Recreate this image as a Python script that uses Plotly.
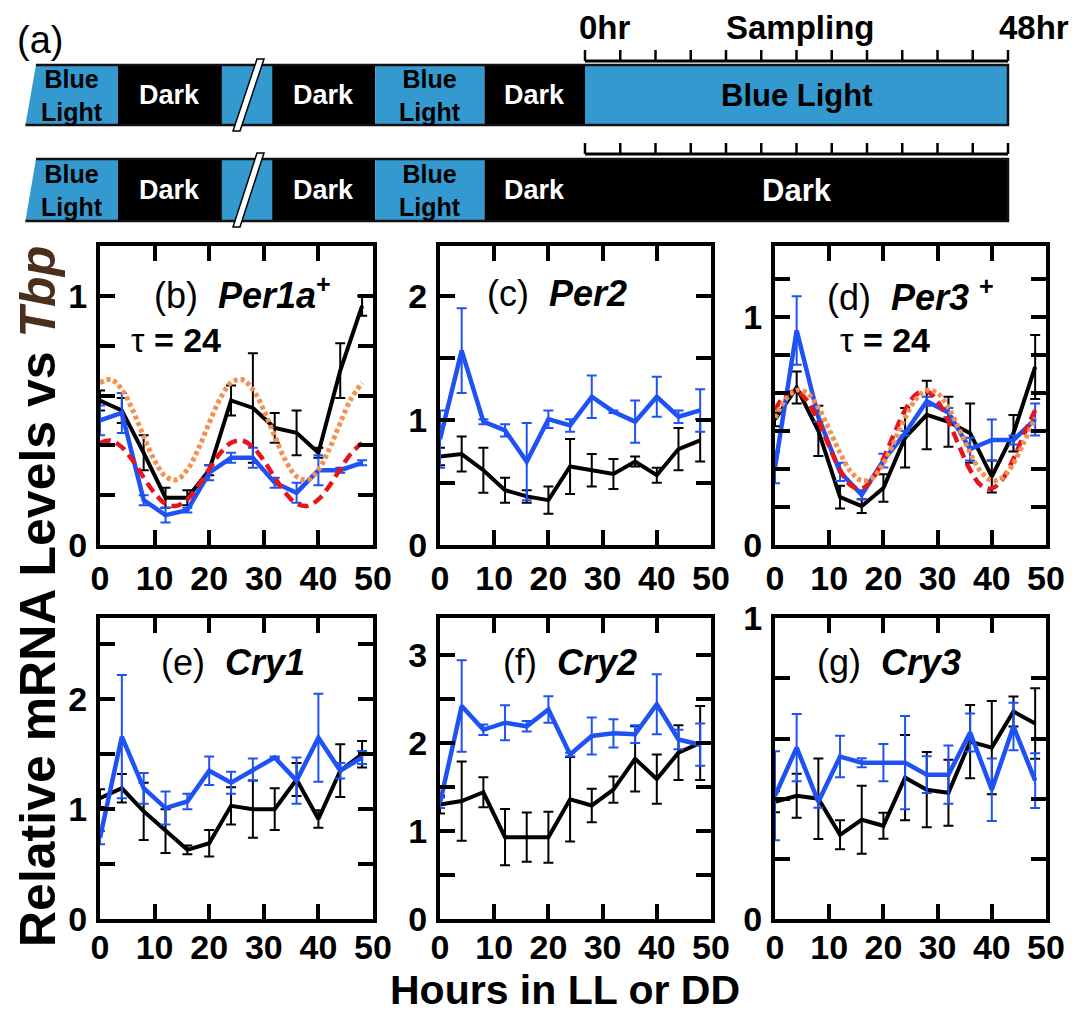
import plotly.graph_objects as go

W, H = 1083, 1015
OFF = 8  # page body margin of the browser
FONT = "Liberation Sans, Arial, sans-serif"
BLACK = "#000000"
BLUE = "#1f52f5"
RED = "#e8141c"
ORANGE = "#f7904f"
DIAG_BLUE = "#3399cf"

# ---------------- data ----------------
hours = [0, 4, 8, 12, 16, 20, 24, 28, 32, 36, 40, 44, 48]
fit_hours = [0, 2, 4, 6, 8, 10, 12, 14, 16, 18, 20, 22, 24,
             26, 28, 30, 32, 34, 36, 38, 40, 42, 44, 46, 48]

# (b) Per1a
per1a_dd = [0.58, 0.54, 0.37, 0.19, 0.19, 0.30, 0.58, 0.55, 0.47, 0.45, 0.37, 0.70, 0.96]
per1a_dd_err = [0.04, 0.05, 0.07, 0.04, 0.03, 0.02, 0.06, 0.22, 0.06, 0.09, 0.02, 0.11, 0.04]
per1a_ll = [0.50, 0.53, 0.18, 0.12, 0.14, 0.29, 0.35, 0.35, 0.25, 0.21, 0.30, 0.30, 0.33]
per1a_ll_err = [0.06, 0.08, 0.02, 0.03, 0.01, 0.03, 0.02, 0.04, 0.02, 0.04, 0.06, 0.01, 0.01]
per1a_fit_dd = [0.651, 0.664, 0.624, 0.541, 0.436, 0.339, 0.275, 0.262, 0.302, 0.385, 0.490, 0.587,
                0.651, 0.664, 0.624, 0.541, 0.436, 0.339, 0.275, 0.262, 0.302, 0.385, 0.490, 0.587, 0.651]
per1a_fit_ll = [0.410, 0.419, 0.393, 0.339, 0.271, 0.208, 0.166, 0.157, 0.183, 0.237, 0.305, 0.368,
                0.410, 0.419, 0.393, 0.339, 0.271, 0.208, 0.166, 0.157, 0.183, 0.237, 0.305, 0.368, 0.410]

# (c) Per2
per2_dd = [0.71, 0.73, 0.60, 0.44, 0.39, 0.36, 0.63, 0.60, 0.57, 0.67, 0.56, 0.77, 0.84]
per2_dd_err = [0.07, 0.14, 0.18, 0.10, 0.05, 0.11, 0.22, 0.13, 0.12, 0.04, 0.06, 0.17, 0.17]
per2_ll = [0.85, 1.56, 0.99, 0.92, 0.67, 1.01, 0.96, 1.19, 1.07, 0.99, 1.19, 1.03, 1.08]
per2_ll_err = [0.23, 0.34, 0.02, 0.05, 0.31, 0.07, 0.05, 0.17, 0.01, 0.17, 0.16, 0.05, 0.17]

# (d) Per3
per3_dd = [0.55, 0.69, 0.50, 0.21, 0.17, 0.25, 0.47, 0.57, 0.54, 0.49, 0.30, 0.49, 0.78]
per3_dd_err = [0.03, 0.07, 0.11, 0.05, 0.03, 0.06, 0.13, 0.15, 0.11, 0.13, 0.07, 0.08, 0.14]
per3_ll = [0.34, 0.94, 0.56, 0.32, 0.22, 0.37, 0.49, 0.63, 0.58, 0.42, 0.46, 0.46, 0.55]
per3_ll_err = [0.07, 0.15, 0.02, 0.04, 0.02, 0.03, 0.01, 0.02, 0.02, 0.05, 0.09, 0.02, 0.07]
per3_fit_dd = [0.557, 0.639, 0.678, 0.665, 0.602, 0.506, 0.403, 0.321, 0.282, 0.295, 0.358, 0.454,
               0.557, 0.639, 0.678, 0.665, 0.602, 0.506, 0.403, 0.321, 0.282, 0.295, 0.358, 0.454, 0.557]
per3_fit_ll = [0.591, 0.659, 0.673, 0.630, 0.542, 0.432, 0.329, 0.261, 0.247, 0.290, 0.378, 0.488,
               0.591, 0.659, 0.673, 0.630, 0.542, 0.432, 0.329, 0.261, 0.247, 0.290, 0.378, 0.488, 0.591]

# (e) Cry1
cry1_dd = [1.10, 1.19, 0.98, 0.80, 0.63, 0.69, 1.03, 1.00, 1.00, 1.27, 0.91, 1.35, 1.50]
cry1_dd_err = [0.08, 0.13, 0.26, 0.20, 0.04, 0.12, 0.17, 0.26, 0.19, 0.15, 0.08, 0.24, 0.12]
cry1_ll = [0.74, 1.66, 1.19, 1.01, 1.07, 1.35, 1.24, 1.36, 1.47, 1.26, 1.65, 1.35, 1.47]
cry1_ll_err = [0.06, 0.56, 0.14, 0.15, 0.07, 0.13, 0.10, 0.10, 0.01, 0.21, 0.40, 0.07, 0.06]

# (f) Cry2
cry2_dd = [1.30, 1.34, 1.44, 0.93, 0.93, 0.93, 1.36, 1.29, 1.47, 1.82, 1.59, 1.89, 2.00]
cry2_dd_err = [0.10, 0.45, 0.17, 0.32, 0.28, 0.29, 0.48, 0.19, 0.15, 0.37, 0.28, 0.31, 0.42]
cry2_ll = [1.32, 2.42, 2.15, 2.23, 2.19, 2.38, 1.87, 2.08, 2.11, 2.10, 2.44, 2.04, 1.98]
cry2_ll_err = [0.06, 0.52, 0.06, 0.20, 0.06, 0.15, 0.02, 0.21, 0.16, 0.10, 0.34, 0.11, 0.24]

# (g) Cry3
cry3_dd = [0.39, 0.41, 0.40, 0.28, 0.33, 0.31, 0.47, 0.43, 0.42, 0.59, 0.57, 0.69, 0.65]
cry3_dd_err = [0.035, 0.073, 0.134, 0.048, 0.113, 0.043, 0.142, 0.125, 0.110, 0.122, 0.155, 0.050, 0.117]
cry3_ll = [0.41, 0.57, 0.39, 0.54, 0.52, 0.52, 0.52, 0.48, 0.48, 0.62, 0.43, 0.64, 0.46]
cry3_ll_err = [0.148, 0.112, 0.020, 0.069, 0.015, 0.062, 0.155, 0.061, 0.097, 0.063, 0.104, 0.079, 0.091]

x_tickvals = [0, 10, 20, 30, 40, 50]
x_ticklabels = ["0", "10", "20", "30", "40", "50"]

# schematic (a): block edges in hours relative to sampling start
block_edges = [-63.5, -53.0, -41.2, -35.5, -23.8, -11.4, 0.0, 48.0]
row1_kinds = ["light", "dark", "light", "dark", "light", "dark", "light"]
row2_kinds = ["light", "dark", "light", "dark", "light", "dark", "dark"]
row_labels = ["Blue Light", "Dark", "", "Dark", "Blue Light", "Dark", None]
sample_hours = hours

# ---------------- helpers ----------------
def px_x(p):
    return (p - OFF) / W


def px_y(p):
    return 1 - (p - OFF) / H


cols = [(100, 373), (440, 711), (775, 1046)]
rows = [(246, 545), (618, 919)]

panels = [
    dict(dd=per1a_dd, dde=per1a_dd_err, ll=per1a_ll, lle=per1a_ll_err,
         fits=(per1a_fit_ll, per1a_fit_dd), yr=[0, 1.2],
         ytv=[0, 0.2, 0.4, 0.6, 0.8, 1.0], ytt=["0", "", "", "", "", "1"], c=0, r=0),
    dict(dd=per2_dd, dde=per2_dd_err, ll=per2_ll, lle=per2_ll_err,
         fits=None, yr=[0, 2.4],
         ytv=[0, 0.5, 1, 1.5, 2], ytt=["0", "", "1", "", "2"], c=1, r=0),
    dict(dd=per3_dd, dde=per3_dd_err, ll=per3_ll, lle=per3_ll_err,
         fits=(per3_fit_ll, per3_fit_dd), yr=[0, 1.31],
         ytv=[0, 0.1667, 0.3333, 0.5, 0.6667, 0.8333, 1.0, 1.1667],
         ytt=["0", "", "", "", "", "", "1", ""], c=2, r=0),
    dict(dd=cry1_dd, dde=cry1_dd_err, ll=cry1_ll, lle=cry1_ll_err,
         fits=None, yr=[0, 2.74],
         ytv=[0, 0.5, 1, 1.5, 2, 2.5], ytt=["0", "", "1", "", "2", ""], c=0, r=1),
    dict(dd=cry2_dd, dde=cry2_dd_err, ll=cry2_ll, lle=cry2_ll_err,
         fits=None, yr=[0, 3.42],
         ytv=[0, 0.5, 1, 1.5, 2, 2.5, 3], ytt=["0", "", "1", "", "2", "", "3"], c=1, r=1),
    dict(dd=cry3_dd, dde=cry3_dd_err, ll=cry3_ll, lle=cry3_ll_err,
         fits=None, yr=[0, 1.001],
         ytv=[0, 0.2, 0.4, 0.6, 0.8, 1.0], ytt=["0", "", "", "", "", "1"], c=2, r=1),
]

fig = go.Figure()
layout = dict(template="none", width=W, height=H,
              margin=dict(l=0, r=0, t=0, b=0, pad=0, autoexpand=False),
              paper_bgcolor="white", plot_bgcolor="white", showlegend=False)

for i, p in enumerate(panels):
    n = i + 1
    xa = "x" if n == 1 else f"x{n}"
    ya = "y" if n == 1 else f"y{n}"
    fig.add_trace(go.Scatter(x=hours, y=p["dd"], mode="lines", xaxis=xa, yaxis=ya,
                             line=dict(color=BLACK, width=4),
                             error_y=dict(type="data", array=p["dde"], color=BLACK,
                                          thickness=2, width=5),
                             hoverinfo="skip"))
    fig.add_trace(go.Scatter(x=hours, y=p["ll"], mode="lines", xaxis=xa, yaxis=ya,
                             line=dict(color=BLUE, width=4.5),
                             error_y=dict(type="data", array=p["lle"], color=BLUE,
                                          thickness=2, width=5),
                             hoverinfo="skip"))
    if p["fits"]:
        fit_ll, fit_dd = p["fits"]
        fig.add_trace(go.Scatter(x=fit_hours, y=fit_ll, mode="lines", xaxis=xa, yaxis=ya,
                                 line=dict(color=RED, width=4.5, dash="11px,6px", shape="spline"),
                                 hoverinfo="skip"))
        fig.add_trace(go.Scatter(x=fit_hours, y=fit_dd, mode="lines", xaxis=xa, yaxis=ya,
                                 line=dict(color=ORANGE, width=5, dash="4px,3px", shape="spline"),
                                 hoverinfo="skip"))
    cx = cols[p["c"]]
    ry = rows[p["r"]]
    axkey = "xaxis" if n == 1 else f"xaxis{n}"
    aykey = "yaxis" if n == 1 else f"yaxis{n}"
    common = dict(showline=True, linewidth=4, linecolor=BLACK, mirror="ticks",
                  ticks="inside", ticklen=15, tickwidth=4, tickcolor=BLACK,
                  showgrid=False, zeroline=False, automargin=False,
                  tickfont=dict(family=FONT, size=34, color=BLACK), tickmode="array")
    layout[axkey] = dict(common, domain=[px_x(cx[0]), px_x(cx[1])], range=[0, 50],
                         anchor=ya, tickvals=x_tickvals,
                         ticktext=[f"<b>{t}</b>" for t in x_ticklabels],
                         ticklabelstandoff=0 if p["r"] == 0 else -5)
    layout[aykey] = dict(common, domain=[px_y(ry[1]), px_y(ry[0])], range=p["yr"],
                         anchor=xa, tickvals=p["ytv"],
                         ticktext=[f"<b>{t}</b>" if t else "" for t in p["ytt"]],
                         ticklabelstandoff=2)

# schematic axes: x in hours (0..48 = sampling window), y in rows of the drawing
px_per_h = (1008 - 585) / 48.0
layout["xaxis7"] = dict(domain=[0, 1],
                        range=[(OFF - 585) / px_per_h, (W + OFF - 585) / px_per_h],
                        visible=False, anchor="y7", fixedrange=True, automargin=False)
layout["yaxis7"] = dict(domain=[1 - 235 / H, 1], range=[235 + OFF, OFF],
                        visible=False, anchor="x7", fixedrange=True, automargin=False)
fig.add_trace(go.Scatter(x=[None], y=[None], xaxis="x7", yaxis="y7", hoverinfo="skip"))

shapes = []
annots = []


def sa(text, x, y, size, color=BLACK, xanchor="center"):
    annots.append(dict(text=text, x=x, y=y, xref="x7", yref="y7", showarrow=False,
                       xanchor=xanchor, yanchor="middle",
                       font=dict(family=FONT, size=size, color=color)))


row_geom = [(65, 125, row1_kinds, 61, 50), (159, 221, row2_kinds, 154, 143)]
slant = 1.2
hb = lambda p: (p - 585) / px_per_h
for ri, (yt, yb, kinds, ybr, ytk) in enumerate(row_geom):
    for k, kind in enumerate(kinds):
        x0, x1 = block_edges[k], block_edges[k + 1]
        col = DIAG_BLUE if kind == "light" else BLACK
        if k == 0:
            path = f"M {x0},{yb} L {x0 + slant},{yt} L {x1},{yt} L {x1},{yb} Z"
            shapes.append(dict(type="path", path=path, xref="x7", yref="y7",
                               fillcolor=col, line=dict(width=0), layer="above"))
        else:
            shapes.append(dict(type="rect", x0=x0, x1=x1, y0=yt, y1=yb, xref="x7", yref="y7",
                               fillcolor=col, line=dict(width=0), layer="above"))
    # outline
    e0, e1 = block_edges[0], block_edges[-1]
    shapes.append(dict(type="path",
                       path=f"M {e0 + slant},{yt} L {e1},{yt} L {e1},{yb} L {e0},{yb}",
                       xref="x7", yref="y7", line=dict(color="#111111", width=2.5),
                       layer="above"))
    # break marks
    bpath = (f"M {hb(233)},{yb + 6} L {hb(240)},{yb + 6} L {hb(264)},{yt - 6} "
             f"L {hb(257)},{yt - 6} Z")
    shapes.append(dict(type="path", path=bpath, xref="x7", yref="y7", fillcolor="white",
                       line=dict(color=BLACK, width=1.5), layer="above"))
    # sampling bracket
    shapes.append(dict(type="line", x0=sample_hours[0], x1=sample_hours[-1], y0=ybr, y1=ybr,
                       xref="x7", yref="y7", line=dict(color=BLACK, width=3), layer="above"))
    for h in sample_hours:
        shapes.append(dict(type="line", x0=h, x1=h, y0=ytk, y1=ybr, xref="x7", yref="y7",
                           line=dict(color=BLACK, width=2.5), layer="above"))
    # labels
    ym = (yt + yb) / 2
    for k, kind in enumerate(kinds):
        xc = (block_edges[k] + block_edges[k + 1]) / 2
        tc = BLACK if kind == "light" else "white"
        if k == len(kinds) - 1:
            sa("<b>Blue Light</b>" if kind == "light" else "<b>Dark</b>", xc, ym, 31, tc)
            continue
        lab = row_labels[k]
        if not lab:
            continue
        if lab == "Blue Light":
            sa("<b>Blue<br>Light</b>", xc, ym, 25, tc)
        else:
            sa("<b>Dark</b>", xc, ym, 27, tc)

sa("<b>0hr</b>", -0.9, 27, 33, xanchor="left")
sa("<b>Sampling</b>", 24.4, 27, 33)
sa("<b>48hr</b>", 51.0, 27, 33)
sa("(a)", -61.8, 40, 38)


def pa(text, xp, yp, size, color=BLACK, angle=0):
    annots.append(dict(text=text, x=px_x(xp), y=px_y(yp), xref="paper", yref="paper",
                       showarrow=False, xanchor="center", yanchor="middle", textangle=angle,
                       font=dict(family=FONT, size=size, color=color)))


pa("(b)  <b><i>Per1a</i></b><sup><b>+</b></sup>", 242, 293, 36)
pa("τ <b>= 24</b>", 176, 340, 34)
pa("(c)  <b><i>Per2</i></b>", 557, 293, 36)
pa("(d)  <b><i>Per3</i></b> <sup><b>+</b></sup>", 910, 295, 36)
pa("τ <b>= 24</b>", 885, 340, 34)
pa("(e)  <b><i>Cry1</i></b>", 233, 662, 36)
pa("(f)  <b><i>Cry2</i></b>", 570, 662, 36)
pa("(g)  <b><i>Cry3</i></b>", 889, 662, 36)

pa("<b>Relative mRNA Levels vs <i><span style='color:#4a2f1d'>Tbp</span></i></b>",
   38, 597, 50, angle=-90)
pa("<b>Hours in LL or DD</b>", 565, 990, 41)

layout["shapes"] = shapes
layout["annotations"] = annots
fig.update_layout(**layout)
fig.write_html("out.html")
